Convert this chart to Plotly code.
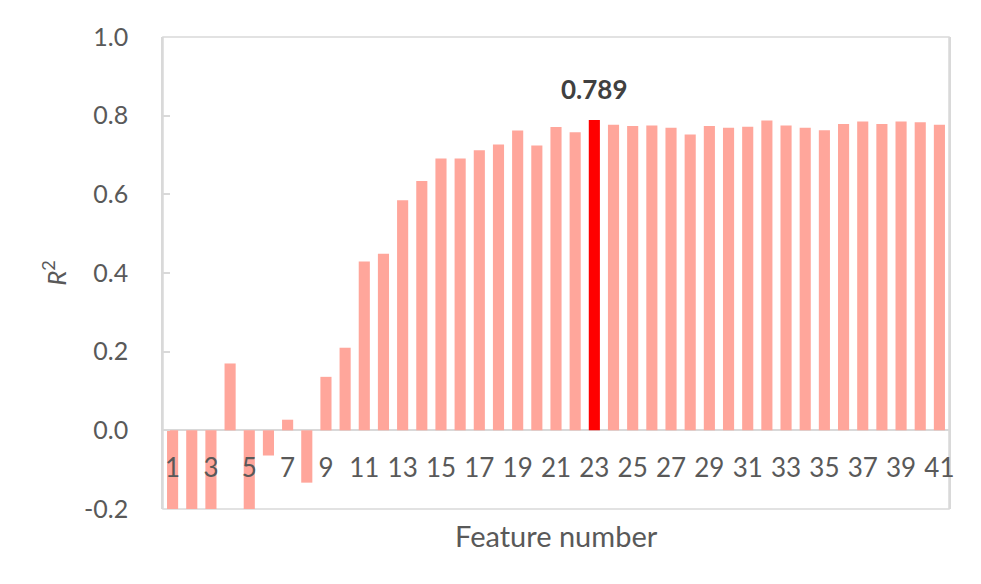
import plotly.graph_objects as go

# Model R² by number of selected features
features = list(range(1, 42))
r2 = [
    -0.25, -0.25, -0.25, 0.170, -0.25, -0.064, 0.027, -0.133, 0.136, 0.210,
    0.429, 0.449, 0.585, 0.634, 0.691, 0.691, 0.712, 0.727, 0.762, 0.724,
    0.771, 0.758, 0.789, 0.777, 0.774, 0.775, 0.769, 0.752, 0.774, 0.769,
    0.772, 0.788, 0.775, 0.769, 0.763, 0.779, 0.785, 0.779, 0.785, 0.783,
    0.777,
]
best_feature = 23
x_tickvals = list(range(1, 42, 2))
y_tickvals = [-0.2, 0.0, 0.2, 0.4, 0.6, 0.8, 1.0]
y_range = [-0.2, 1.0]

BAR = "#FFA69B"
HIGHLIGHT = "#FF0000"
AXIS_GREY = "#D9D9D9"
TEXT_GREY = "#595959"
FONT = "Lato"

colors = [HIGHLIGHT if f == best_feature else BAR for f in features]
best_value = r2[features.index(best_feature)]

# category axis sits on the y = 0 line, as a fraction of the plot height
zero_pos = (0 - y_range[0]) / (y_range[1] - y_range[0])

fig = go.Figure(
    go.Bar(
        x=features,
        y=r2,
        marker=dict(color=colors, line=dict(width=0)),
        width=0.58,
        hoverinfo="x+y",
    )
)

fig.add_annotation(
    x=best_feature,
    y=best_value,
    text=f"<b>{best_value:.3f}</b>",
    showarrow=False,
    yanchor="bottom",
    yshift=13,
    font=dict(family=FONT, size=26, color="#404040"),
)

fig.add_annotation(
    x=0.5,
    y=0,
    xref="paper",
    yref="paper",
    text="Feature number",
    showarrow=False,
    yanchor="middle",
    yshift=-26,
    font=dict(family=FONT, size=29, color=TEXT_GREY),
)

# frame around the plotting area
fig.add_shape(
    type="rect",
    xref="paper",
    yref="paper",
    x0=0,
    x1=1,
    y0=0,
    y1=1,
    line=dict(color=AXIS_GREY, width=1.5),
    layer="below",
)

fig.update_layout(
    width=981,
    height=584,
    margin=dict(l=163, r=32, t=37, b=75),
    paper_bgcolor="white",
    plot_bgcolor="white",
    showlegend=False,
    font=dict(family=FONT, size=25, color=TEXT_GREY),
)

fig.update_xaxes(
    range=[0.5, 41.5],
    anchor="free",
    position=zero_pos,
    tickmode="array",
    tickvals=x_tickvals,
    ticktext=[str(v) for v in x_tickvals],
    ticks="",
    ticklabelstandoff=20,
    showgrid=False,
    zeroline=False,
    showline=False,
    tickfont=dict(family=FONT, size=26, color=TEXT_GREY),
)

fig.update_yaxes(
    range=y_range,
    tickmode="array",
    tickvals=y_tickvals,
    ticktext=[f"{v:.1f}" for v in y_tickvals],
    ticks="inside",
    ticklen=7,
    tickcolor=AXIS_GREY,
    tickwidth=1.5,
    ticklabelstandoff=28,
    showgrid=False,
    zeroline=True,
    zerolinecolor=AXIS_GREY,
    zerolinewidth=1.5,
    showline=True,
    linecolor=AXIS_GREY,
    linewidth=1.5,
    mirror=True,
    tickfont=dict(family=FONT, size=25, color=TEXT_GREY),
    title=dict(
        text="<i>R</i><sup>2</sup>",
        font=dict(family=FONT, size=26, color=TEXT_GREY),
        standoff=10,
    ),
)

fig.write_html("out.html")
